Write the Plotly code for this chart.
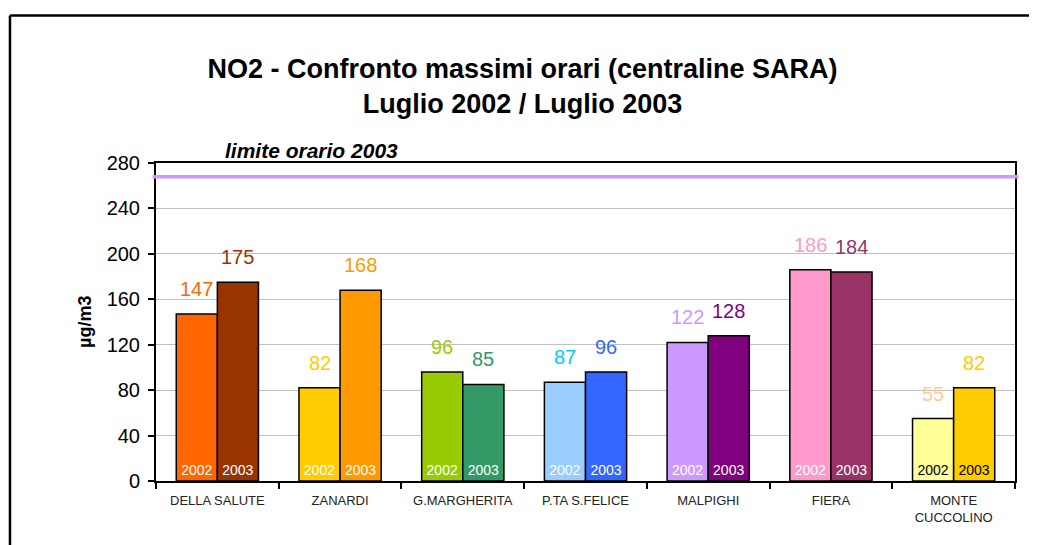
import plotly.graph_objects as go

stations = ["DELLA SALUTE", "ZANARDI", "G.MARGHERITA", "P.TA S.FELICE",
            "MALPIGHI", "FIERA", "MONTE<br>CUCCOLINO"]
values_2002 = [147, 82, 96, 87, 122, 186, 55]
values_2003 = [175, 168, 85, 96, 128, 184, 82]
colors_2002 = ["#FF6600", "#FFCC00", "#99CC00", "#99CCFF", "#CC99FF", "#FF99CC", "#FFFF99"]
colors_2003 = ["#993300", "#FF9900", "#339966", "#3366FF", "#800080", "#993366", "#FFCC00"]
label_colors_2002 = ["#FF6600", "#FFCC00", "#99CC00", "#00CCFF", "#CC99FF", "#FF99CC", "#FFCC99"]
label_colors_2003 = ["#993300", "#FF9900", "#339966", "#3366FF", "#800080", "#993366", "#FFCC00"]
year_text_colors = ["white"] * 6 + ["black"]
limit_value = 268
y_ticks = [0, 40, 80, 120, 160, 200, 240, 280]

FONT = "Arial, Liberation Sans, sans-serif"

fig = go.Figure()
for yr, vals, cols in [("2002", values_2002, colors_2002), ("2003", values_2003, colors_2003)]:
    fig.add_trace(go.Bar(
        x=stations, y=vals, name=yr, offsetgroup=yr,
        marker=dict(color=cols, line=dict(color="black", width=1.5)),
        text=[yr] * len(vals), textposition="inside", insidetextanchor="start",
        textangle=0, textfont=dict(family=FONT, size=14, color=year_text_colors),
        cliponaxis=False, hoverinfo="x+y",
    ))

annotations = []
half = (1 - 0.33) / 4
for i in range(len(stations)):
    for off, vals, lcols in [(-half, values_2002, label_colors_2002), (half, values_2003, label_colors_2003)]:
        annotations.append(dict(
            x=i + off, y=vals[i], xref="x", yref="y", text=str(vals[i]),
            showarrow=False, yanchor="middle", yshift=25,
            font=dict(family=FONT, size=20, color=lcols[i]),
        ))

annotations.append(dict(
    x=0.181, y=1.039, xref="paper", yref="paper", text="<b><i>limite orario 2003</i></b>",
    showarrow=False, xanchor="center", yanchor="middle",
    font=dict(family=FONT, size=21, color="black"),
))
annotations.append(dict(
    x=-0.0827, y=0.5, xref="paper", yref="paper", text="<b>µg/m3</b>",
    showarrow=False, textangle=-90, xanchor="center", yanchor="middle",
    font=dict(family=FONT, size=18, color="black"),
))

shapes = [
    dict(type="line", xref="paper", yref="y", x0=-0.004, x1=1.004, y0=limit_value, y1=limit_value,
         line=dict(color="#CC99FF", width=3.5)),
    dict(type="line", xref="paper", yref="paper", x0=-0.170, x1=1.1, y0=1.464, y1=1.464,
         line=dict(color="black", width=2.5)),
    dict(type="line", xref="paper", yref="paper", x0=-0.170, x1=-0.170, y0=1.464, y1=-0.4,
         line=dict(color="black", width=2.5)),
]

fig.update_layout(
    width=1029, height=537,
    margin=dict(l=148, r=22, t=154.5, b=63.5),
    paper_bgcolor="white", plot_bgcolor="white",
    barmode="group", bargap=0.33, bargroupgap=0,
    showlegend=False,
    title=dict(
        text="<b>NO2 - Confronto massimi orari (centraline SARA)<br>Luglio 2002 / Luglio 2003</b>",
        x=0.5, xanchor="center", xref="container",
        y=1 - 70 / 537, yanchor="middle", yref="container",
        font=dict(family=FONT, size=27, color="black"),
    ),
    xaxis=dict(
        type="category", tickson="boundaries", ticks="outside", ticklen=6,
        tickcolor="black", tickwidth=2,
        showline=True, linecolor="black", linewidth=2, mirror=True,
        tickfont=dict(family=FONT, size=13, color="#222222"),
        ticklabelstandoff=6,
        showgrid=False,
    ),
    yaxis=dict(
        range=[0, 280], tickvals=y_ticks, ticks="outside", ticklen=6,
        tickcolor="black", tickwidth=2,
        showline=True, linecolor="black", linewidth=2, mirror=True,
        showgrid=True, gridcolor="#C0C0C0", gridwidth=1, zeroline=False,
        tickfont=dict(family=FONT, size=20, color="black"),
        ticklabelstandoff=4,
    ),
    annotations=annotations,
    shapes=shapes,
)

fig.write_html("out.html")
